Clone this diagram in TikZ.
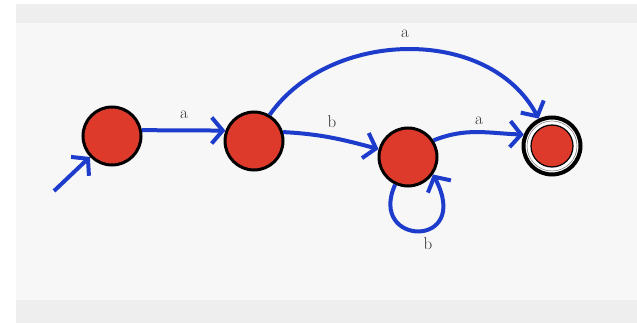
\documentclass[tikz,border=0pt]{standalone}
\usetikzlibrary{arrows.meta}
\definecolor{bgband}{HTML}{EEEEEE}
\definecolor{bgmain}{HTML}{F7F7F7}
\definecolor{statered}{HTML}{DD3A2C}
\definecolor{edgeblue}{HTML}{1E3CCC}
\definecolor{labelgray}{HTML}{333333}
\tikzset{
  state/.style={circle,draw=black,line width=3pt,fill=statered,minimum size=58pt,inner sep=0pt},
  finalouter/.style={circle,draw=black,line width=4pt,fill=white,minimum size=57pt,inner sep=0pt},
  finalinner/.style={circle,draw=black,line width=1.2pt,fill=statered,minimum size=42pt,inner sep=0pt},
  conn/.style={draw=edgeblue,line width=4pt,-{Straight Barb[length=11pt,width=26pt,line width=4pt]}},
  lbl/.style={text=labelgray,font=\fontsize{17}{20}\selectfont,inner sep=1pt}
}
\begin{document}
\begin{tikzpicture}[x=1pt,y=1pt]
\useasboundingbox (0,0) rectangle (637,-323);
\fill[white] (0,0) rectangle (637,-323);
\fill[bgband] (16,-4) rectangle (637,-23);
\fill[bgmain] (16,-23) rectangle (637,-300);
\fill[bgband] (16,-300) rectangle (637,-323);

\node[state] (q0) at (112,-136) {};
\node[state] (q1) at (254,-141) {};
\node[state] (q2) at (408,-157) {};
\node[finalouter] (q3) at (552,-146) {};
\draw[gray,line width=0.6pt] (q3.center) circle (25pt);
\node[finalinner] (q3i) at (q3.center) {};

\coordinate (s) at (54,-191);
\draw[conn] (s) -- (q0);
\draw[conn] (q0.11) -- (q1.160);
\draw[conn] (q1.17) to[out=-3,in=165] (q2.165);
\draw[conn] (q2.33) to[out=22,in=178] (q3.158);
\draw[conn] (q1.59) to[out=55,in=118] (q3.116);
\draw[conn] (q2.245) .. controls +(-28,-62) and +(40,-75) .. (q2.-35);

\node[lbl] (l01) at (184,-115) {a};
\node[lbl] (l12) at (332,-122) {b};
\node[lbl] (l23) at (479,-121) {a};
\node[lbl] (l13) at (405,-34) {a};
\node[lbl] (l22) at (428,-244) {b};
\end{tikzpicture}
\end{document}
